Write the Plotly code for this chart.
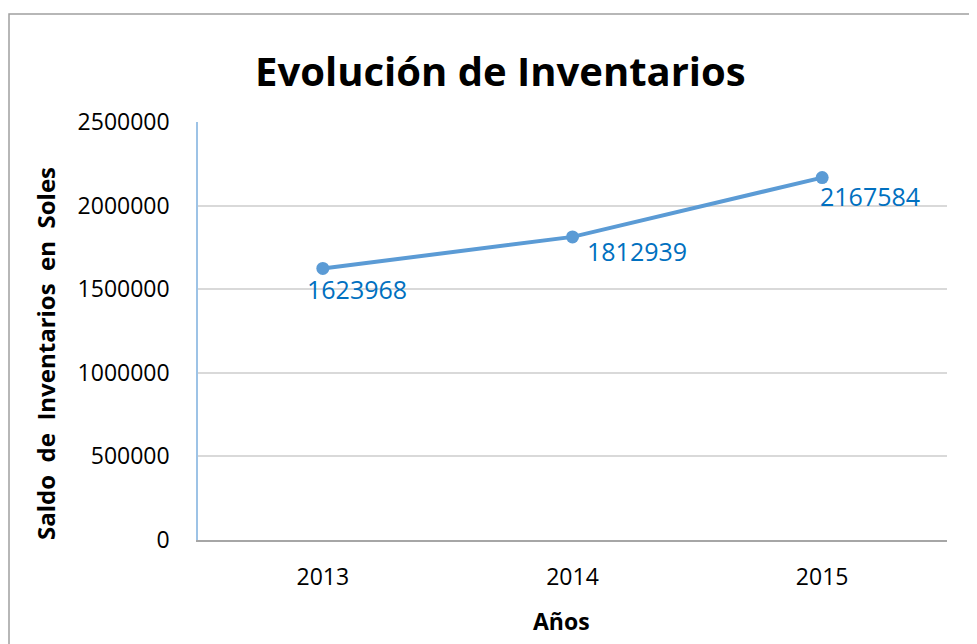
import plotly.graph_objects as go

years = ["2013", "2014", "2015"]
saldo = [1623968, 1812939, 2167584]
y_ticks = [0, 500000, 1000000, 1500000, 2000000, 2500000]

label_dx = [-18, 12, -4]
label_dy = [-21, -14, -18]

FONT = "Open Sans"
OFF = 8  # page body margin
W, H = 977, 644
ML, MR, MT, MB = 198 - OFF, 977 - 947 + OFF, 122 - OFF, 644 - 540 + OFF
PW, PH = W - ML - MR, H - MT - MB

def px_x(p):
    return (p - OFF - ML) / PW

def px_y(p):
    return (H - MB - (p - OFF)) / PH

fig = go.Figure()
fig.add_trace(go.Scatter(
    x=years, y=saldo, mode="lines+markers",
    line=dict(color="#5B9BD5", width=4),
    marker=dict(color="#5B9BD5", size=13),
    hoverinfo="x+y", showlegend=False,
))

annotations = []
for i, v in enumerate(saldo):
    annotations.append(dict(
        x=i, y=v, xref="x", yref="y", text=str(v), showarrow=False,
        xanchor="left", yanchor="middle", xshift=label_dx[i], yshift=label_dy[i],
        font=dict(family=FONT, size=25, color="#0070C0"),
    ))

annotations += [
    dict(text="<b>Evolución de Inventarios</b>", x=px_x(500), y=px_y(70),
         xref="paper", yref="paper", showarrow=False, xanchor="center", yanchor="middle",
         font=dict(family=FONT, size=40, color="#000000")),
    dict(text="<b>Saldo\u00a0 de\u00a0 Inventarios\u00a0 en\u00a0 Soles</b>", x=px_x(45), y=px_y(354),
         xref="paper", yref="paper", showarrow=False, textangle=-90,
         xanchor="center", yanchor="middle",
         font=dict(family=FONT, size=24, color="#000000")),
    dict(text="<b>Años</b>", x=px_x(561), y=px_y(621),
         xref="paper", yref="paper", showarrow=False, xanchor="center", yanchor="middle",
         font=dict(family=FONT, size=23, color="#000000")),
]

shapes = [
    dict(type="rect", xref="paper", yref="paper",
         x0=px_x(9), x1=px_x(1100), y0=px_y(700), y1=px_y(14),
         line=dict(color="#A0A0A0", width=1.5), fillcolor="rgba(0,0,0,0)", layer="below"),
]

fig.update_layout(
    width=W, height=H,
    margin=dict(l=ML, r=MR, t=MT, b=MB),
    paper_bgcolor="white", plot_bgcolor="white",
    annotations=annotations, shapes=shapes,
    font=dict(family=FONT, color="#000000"),
    xaxis=dict(
        type="category", range=[-0.5, 2.5],
        showgrid=False, zeroline=False,
        showline=True, linecolor="#A6A6A6", linewidth=2,
        ticks="", tickfont=dict(family=FONT, size=23, color="#000000"),
        ticklabelstandoff=15,
    ),
    yaxis=dict(
        range=[0, 2500000], tickvals=y_ticks, ticktext=[str(t) for t in y_ticks],
        showgrid=True, gridcolor="#D9D9D9", gridwidth=1.5,
        zeroline=False, showline=True, linecolor="#9DC3E6", linewidth=1.5,
        ticks="", tickfont=dict(family=FONT, size=23, color="#000000"),
        ticklabelstandoff=22,
    ),
)

fig.write_html("out.html")
